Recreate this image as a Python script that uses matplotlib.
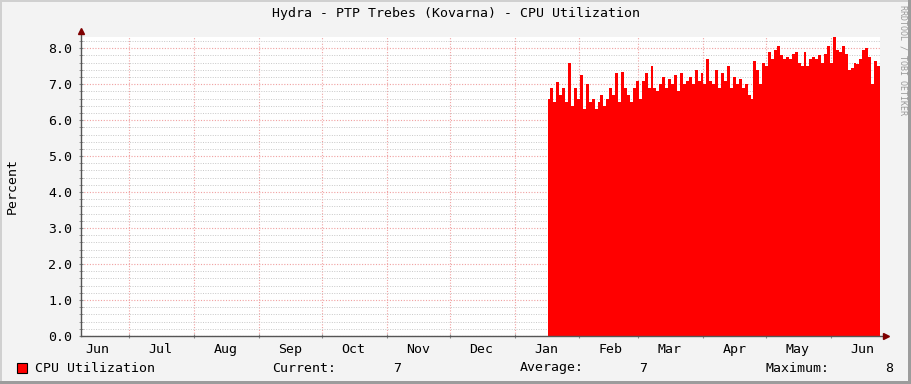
import datetime as dt
import numpy as np
import matplotlib
matplotlib.use('Agg')
import matplotlib.pyplot as plt
import matplotlib.dates as mdates
from matplotlib.ticker import MultipleLocator, FormatStrFormatter, NullFormatter

# time window shown (one year graph)
view_start = dt.datetime(2020, 6, 8)
view_end = dt.datetime(2021, 6, 24, 12)

# CPU utilization samples, evenly spaced from data_start to view_end
data_start = dt.datetime(2021, 1, 16, 18)
cpu = [
    6.6, 6.9, 6.5, 7.05, 6.7, 6.9, 6.5, 7.6, 6.4, 6.9, 6.6,
    7.25, 6.3, 7.0, 6.5, 6.6, 6.3, 6.5, 6.7, 6.4, 6.6, 6.9,
    6.7, 7.3, 6.5, 7.33, 6.9, 6.7, 6.5, 6.9, 7.1, 6.6,
    7.1, 7.3, 6.9, 7.5, 6.9, 6.8, 7.0, 7.2, 6.9, 7.15,
    7.0, 7.25, 6.8, 7.3, 7.0, 7.1, 7.2, 7.0, 7.4, 7.1, 7.3,
    7.0, 7.7, 7.1, 7.0, 7.4, 6.9, 7.3, 7.1, 7.5, 6.9, 7.2,
    7.0, 7.15, 6.9, 7.0, 6.7, 6.6,
    7.65, 7.4, 7.0, 7.6, 7.5,
    7.9, 7.7, 7.95, 8.05, 7.8, 7.7, 7.75, 7.7, 7.85, 7.9, 7.6,
    7.5, 7.9, 7.5, 7.7, 7.75, 7.7, 7.8, 7.6, 7.85, 8.05,
    7.6, 8.3, 7.95, 7.9, 8.05, 7.85, 7.4,
    7.45, 7.6, 7.55, 7.7, 7.95, 8.0, 7.75, 7.0, 7.65, 7.5,
]

title = 'Hydra - PTP Trebes (Kovarna) - CPU Utilization'
legend_name = 'CPU Utilization'
stats = [('Current:', '7'), ('Average:', '7'), ('Maximum:', '8')]

mono = 'DejaVu Sans Mono'
plt.rcParams['font.family'] = mono

W, H = 911, 384
fig = plt.figure(figsize=(W / 100, H / 100), dpi=100, facecolor='#f3f3f3')
ax = fig.add_axes([81 / W, 48 / H, 799 / W, 299 / H])
ax.set_facecolor('white')

t0 = mdates.date2num(data_start)
t1 = mdates.date2num(view_end)
tx = np.linspace(t0, t1, len(cpu) + 1)
ax.fill_between(tx, cpu + [cpu[-1]], step='post', color='#ff0000', lw=0, zorder=2)

ax.set_xlim(view_start, view_end)
ax.set_ylim(0, 8.31)

ax.yaxis.set_major_locator(MultipleLocator(1))
ax.yaxis.set_minor_locator(MultipleLocator(0.2))
ax.yaxis.set_major_formatter(FormatStrFormatter('%.1f'))
ax.xaxis.set_major_locator(mdates.MonthLocator(bymonthday=1))
ax.xaxis.set_major_formatter(NullFormatter())
ax.xaxis.set_minor_locator(mdates.MonthLocator(bymonthday=16))
ax.xaxis.set_minor_formatter(mdates.DateFormatter('%b'))

ax.grid(which='minor', axis='y', color='#c8c8c8', ls=(0, (1, 1.5)), lw=0.7, zorder=1)
ax.grid(which='major', axis='y', color='#f0a0a0', ls=(0, (1, 1.5)), lw=0.8, zorder=1)
ax.grid(which='major', axis='x', color='#f0a0a0', ls=(0, (1, 1.5)), lw=0.8, zorder=1)

ax.tick_params(axis='y', which='both', direction='inout', length=3, color='#888888',
               labelsize=9.5, pad=5)
ax.tick_params(axis='x', which='major', direction='inout', length=3, color='#888888')
ax.tick_params(axis='x', which='minor', length=0, labelsize=9.5, pad=5)

for s in ax.spines.values():
    s.set_visible(False)

# axis lines with arrow heads
ax.plot([0, 0], [0, 1.02], transform=ax.transAxes, color='#555555', lw=1, clip_on=False, zorder=3)
ax.plot([0, 1.008], [0, 0], transform=ax.transAxes, color='#555555', lw=1, clip_on=False, zorder=3)
ax.plot([0], [1.02], transform=ax.transAxes, marker='^', ms=4, color='#7f0000', clip_on=False, zorder=4)
ax.plot([1.008], [0], transform=ax.transAxes, marker='>', ms=4, color='#7f0000', clip_on=False, zorder=4)

fig.text(12 / W, 1 - 186 / H, 'Percent', rotation=90, ha='center', va='center', fontsize=9.5)

fig.text(0.5, 1 - 14 / H, title, ha='center', va='center', fontsize=9.5)

# legend row
ly = 16 / H
fig.patches.append(plt.Rectangle((17 / W, ly - 5 / H), 10 / W, 10 / H, transform=fig.transFigure,
                                 facecolor='#ff0000', edgecolor='black', lw=0.8))
fig.text(35 / W, ly, legend_name, ha='left', va='center', fontsize=9.5)
label_x = [272, 520, 765]
value_x = [401, 647, 893]
for (lab, val), lx, vx in zip(stats, label_x, value_x):
    fig.text(lx / W, ly, lab, ha='left', va='center', fontsize=9.5)
    fig.text(vx / W, ly, val, ha='right', va='center', fontsize=9.5)

fig.text(903 / W, 1 - 60 / H, 'RRDTOOL / TOBI OETIKER', rotation=270, ha='center', va='center',
         fontsize=6, color='#9a9a9a')

# 3D frame of the canvas
fig.patches.append(plt.Rectangle((0, 1 - 2 / H), 1, 2 / H, transform=fig.transFigure, color='#d0d0d0', lw=0))
fig.patches.append(plt.Rectangle((0, 0), 2 / W, 1, transform=fig.transFigure, color='#d0d0d0', lw=0))
fig.patches.append(plt.Rectangle((0, 0), 1, 3 / H, transform=fig.transFigure, color='#9c9c9c', lw=0))
fig.patches.append(plt.Rectangle((1 - 3 / W, 0), 3 / W, 1, transform=fig.transFigure, color='#9c9c9c', lw=0))

fig.savefig('out.png', dpi=100, facecolor=fig.get_facecolor())
